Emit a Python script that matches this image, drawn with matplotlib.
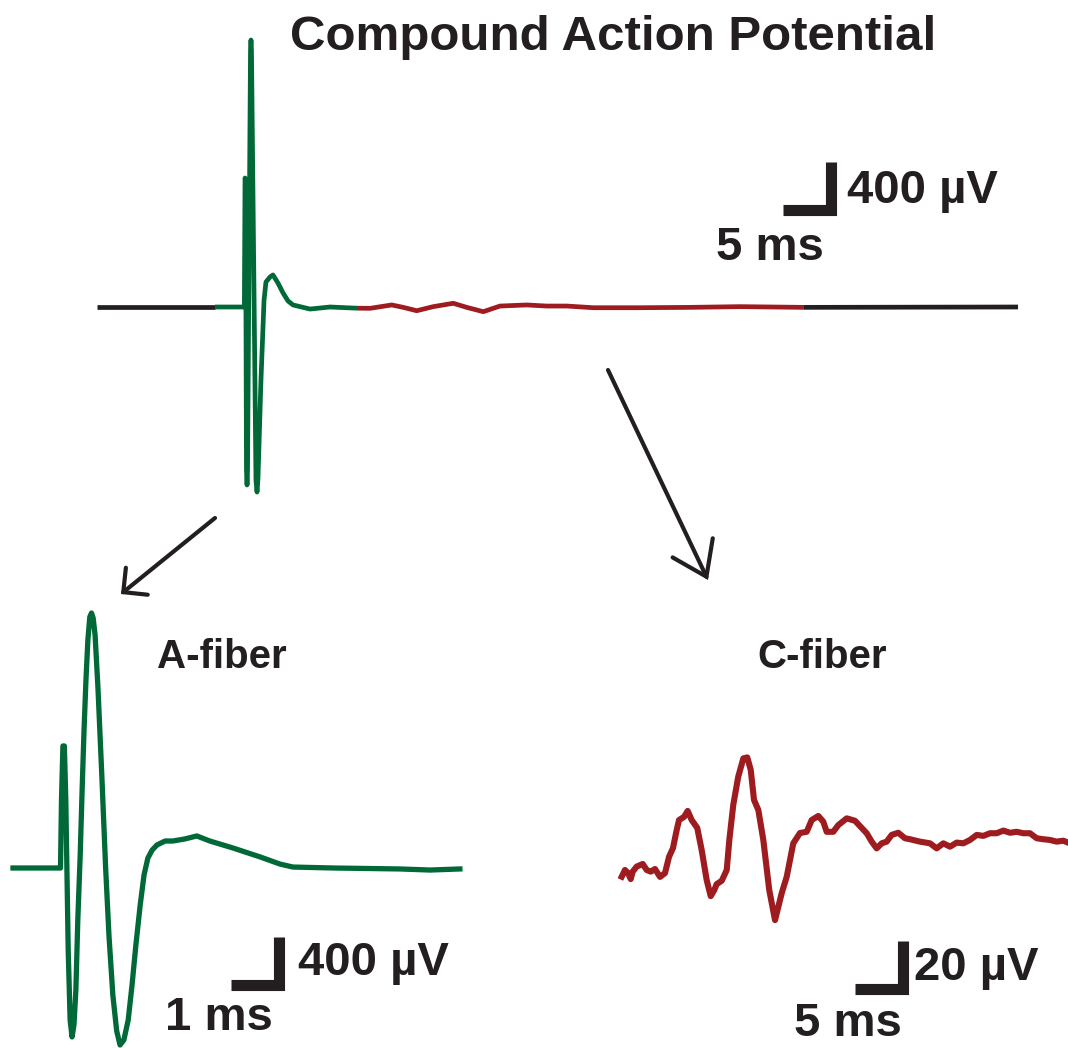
import numpy as np
import matplotlib
matplotlib.use('Agg')
import matplotlib.pyplot as plt

plt.rcParams['font.family'] = ['Liberation Sans', 'DejaVu Sans']

W, H = 1068, 1048
ink = '#231f20'
green = '#006937'
red = '#9e1c20'

# compound action potential, full sweep (ms, uV)
cap_t = [0, 12.29, 15.35, 15.42, 15.47, 15.57, 15.63, 15.68, 15.99, 16.04,
         16.09, 16.56, 16.67, 16.77, 17.08, 17.40, 17.60, 18.02, 18.33, 18.85,
         19.38, 19.90, 20.42, 22.19, 24.27, 27.08, 28.44, 30.7, 31.9, 33.3,
         35.03, 37.11, 38.51, 40.24, 41.98, 44.76, 46.84, 48.93, 51.7, 56.56,
         61.77, 66.98, 73.57, 95.94]
cap_v = [0, 0, 0, 1075, 1058, -1358, -1483, -1358, 2142, 2225,
         2142, -1442, -1542, -1425, -608, 58, 208, 250, 267, 200,
         117, 50, 17, -17, 0, -10, -11, 17, -3, -31,
         3, 31, -3, -39, 8, 17, 8, 8, -6, -6,
         -3, 3, -3, 0]
a_window = (12.29, 27.08)
c_window = (27.08, 73.57)

# A-fiber, expanded time base (ms, uV)
a_t = [0, 0.99, 1.01, 1.04, 1.07, 1.10, 1.15, 1.19, 1.23, 1.27,
       1.31, 1.35, 1.40, 1.44, 1.48, 1.52, 1.56, 1.60, 1.635, 1.67,
       1.71, 1.77, 1.85, 1.93, 2.00, 2.08, 2.16, 2.23, 2.31, 2.40,
       2.48, 2.56, 2.65, 2.73, 2.81, 2.90, 3.0, 3.17, 3.33, 3.58,
       3.83, 4.10, 4.58, 5.15, 5.56, 5.83, 6.67, 8.06, 8.69, 9.31]
a_v = [0, 0, 567, 1017, 1017, 567, -683, -1267, -1408, -1308,
       -1017, -433, 108, 650, 1150, 1567, 1900, 2092, 2125, 2083,
       1942, 1500, 775, 0, -567, -1058, -1358, -1475, -1433, -1267,
       -975, -642, -308, -58, 83, 150, 192, 225, 225, 242,
       267, 225, 167, 92, 33, 8, 0, -8, -17, -8]

# C-fiber, expanded amplitude (ms, uV)
c_t = [-0.03, 0.31, 0.63, 0.91, 1.11, 1.53, 2.16, 2.57, 2.99, 3.44,
       3.96, 4.48, 4.90, 5.31, 5.70, 5.94, 6.46, 6.84, 7.26, 7.84,
       8.30, 8.82, 9.24, 9.61, 9.86, 10.39, 10.91, 11.18, 11.59, 12.11,
       12.64, 13.05, 13.41, 13.75, 14.20, 14.72, 15.34, 15.94, 16.64, 17.16,
       17.84, 18.54, 19.24, 19.76, 20.45, 20.97, 21.32, 22.01, 22.53, 23.41,
       24.27, 24.97, 25.49, 26.01, 26.53, 27.05, 27.57, 28.09, 28.78, 29.48,
       30.0, 31.04, 32.08, 32.78, 33.47, 34.17, 34.86, 35.55, 36.25, 36.95,
       37.64, 38.33, 39.03, 39.72, 40.42, 41.11, 41.80, 42.50, 43.20, 43.89,
       44.58, 45.28, 45.97, 46.46]
c_v = [-13.2, -10.4, -11.7, -14.2, -11.1, -9.0, -7.9, -10.4, -11.1, -10.0,
       -13.3, -11.7, -4.9, -1.3, 6.3, 10.4, 11.7, 14.2, 10.4, 7.1,
       -2.1, -14.6, -21.3, -18.8, -16.3, -14.9, -10.4, 2.1, 16.7, 28.5,
       36.1, 36.5, 31.3, 18.8, 14.6, 2.1, -18.8, -31.3, -20.0, -13.2,
       0.7, 5.0, 5.5, 10.4, 12.1, 9.7, 5.5, 5.5, 8.3, 11.1,
       10.1, 7.1, 4.9, 1.4, -1.4, 0.7, 1.4, 4.2, 5.1, 2.8,
       2.4, 1.4, 0.7, -1.4, 0.7, -0.7, 1.0, 0.7, 2.1, 4.2,
       3.8, 4.9, 4.9, 6.0, 5.1, 5.5, 4.9, 4.9, 2.8, 2.4,
       2.1, 1.4, 1.8, 1.0]

fig = plt.figure(figsize=(W / 100, H / 100), dpi=100)


def add_panel(x0, y0, px_ms, px_uv):
    # full-figure axes; (x0, y0) is the pixel where t=0, v=0 sits
    ax = fig.add_axes([0, 0, 1, 1])
    ax.set_xlim(-x0 / px_ms, (W - x0) / px_ms)
    ax.set_ylim(-(H - y0) / px_uv, y0 / px_uv)
    ax.axis('off')
    return ax


def scale_bar(ax, t, v, dt, dv):
    ax.plot([t - dt, t, t], [v, v, v + dv], color=ink, lw=8,
            solid_joinstyle='miter', solid_capstyle='butt')


def px(x, y):
    return x / W, 1 - y / H


# top sweep
ax_cap = add_panel(97, 307, 9.6, 0.12)
t = np.array(cap_t)
v = np.array(cap_v)
for lo, hi, col in [(t[0], a_window[0], ink), (a_window[0], a_window[1], green),
                    (c_window[0], c_window[1], red), (c_window[1], t[-1], ink)]:
    m = (t >= lo) & (t <= hi)
    ax_cap.plot(t[m], v[m], color=col, lw=3.4, solid_joinstyle='round',
                solid_capstyle='butt')
scale_bar(ax_cap, 76.5, 812.5, 5, 400)

# A-fiber
ax_a = add_panel(13, 868, 48, 0.12)
ax_a.plot(a_t, a_v, color=green, lw=3.8, solid_joinstyle='round')
scale_bar(ax_a, 5.55, -971, 1, 400)

# C-fiber
ax_c = add_panel(622, 845, 9.6, 2.4)
ax_c.plot(c_t, c_v, color=red, lw=4.4, solid_joinstyle='round')
scale_bar(ax_c, 29.22, -60.2, 5, 20)

# labels
fig.text(*px(613, 50), 'Compound Action Potential', ha='center', va='baseline',
         fontsize=35.5, fontweight='bold', color=ink)
big = dict(ha='left', va='baseline', fontsize=34, fontweight='bold', color=ink)
fig.text(*px(847, 203), '400 µV', **big)
fig.text(*px(716, 260), '5 ms', **big)
fig.text(*px(298, 975), '400 µV', **big)
fig.text(*px(165, 1030), '1 ms', **big)
fig.text(*px(914, 980), '20 µV', **big)
fig.text(*px(794, 1036), '5 ms', **big)
fig.text(*px(222, 668), 'A-fiber', ha='center', va='baseline', fontsize=29,
         fontweight='bold', color=ink)
fig.text(*px(822, 668), 'C-fiber', ha='center', va='baseline', fontsize=29,
         fontweight='bold', color=ink)

# arrows pointing from the sweep to the expanded views
fig.add_artist(matplotlib.patches.FancyArrowPatch(
    px(215, 518), px(121, 594), transform=fig.transFigure,
    arrowstyle='->,head_length=1.25,head_width=1.25', mutation_scale=10,
    color=ink, lw=3.0, shrinkA=0, shrinkB=0, joinstyle='miter'))
fig.add_artist(matplotlib.patches.FancyArrowPatch(
    px(608, 370), px(708, 580), transform=fig.transFigure,
    arrowstyle='->,head_length=2.3,head_width=1.6', mutation_scale=10,
    color=ink, lw=3.0, shrinkA=0, shrinkB=0, joinstyle='miter'))

fig.savefig('out.png', dpi=100)
